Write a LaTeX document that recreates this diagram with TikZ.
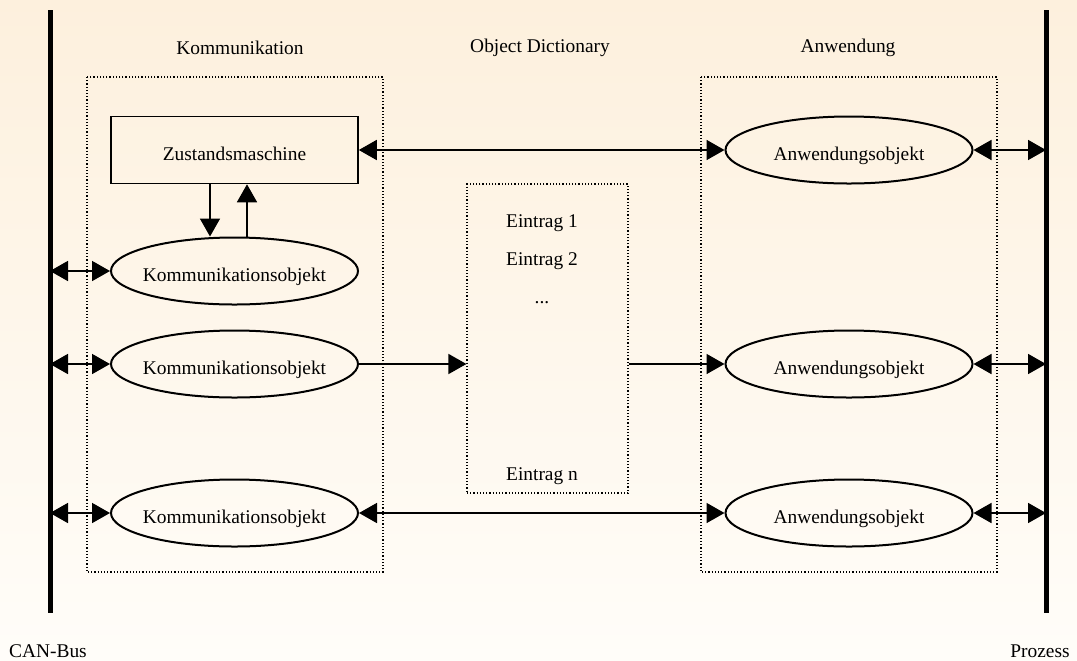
\documentclass[tikz,border=0pt]{standalone}
\usepackage{fontspec}
\setmainfont{Liberation Serif}
\usepackage{xcolor}
\usetikzlibrary{arrows.meta,shapes.geometric}

\definecolor{bgtop}{RGB}{253,240,221}
\definecolor{bgbot}{RGB}{255,253,249}

\tikzset{
  txt/.style={font=\fontsize{9.7}{11}\selectfont},
  objell/.style={draw, ellipse, line width=1pt, minimum width=123.5pt, minimum height=33.5pt, inner xsep=-3pt, inner ysep=0pt, text height=12pt, text depth=2pt, txt},
  zbox/.style={draw, rectangle, line width=0.8pt, minimum width=123.5pt, minimum height=33.5pt, inner sep=0pt, text height=12pt, text depth=2pt, txt},
  dotbox/.style={draw, densely dotted, line width=0.6pt},
  con/.style={line width=0.85pt, -{Triangle[length=9pt,width=10pt]}},
  dcon/.style={line width=0.85pt, {Triangle[length=9pt,width=10pt]}-{Triangle[length=9pt,width=10pt]}},
  bus/.style={line width=2.5pt}
}

\begin{document}
\begin{tikzpicture}[x=0.5pt, y=-0.5pt]
\shade[top color=bgtop, bottom color=bgbot] (0,0) rectangle (1077,660);
\useasboundingbox (0,0) rectangle (1077,660);

% Busse
\coordinate (can) at (50,10);
\coordinate (prz) at (1046,10);
\draw[bus] (can) -- (50,613);
\draw[bus] (prz) -- (1046,613);
\node[txt] (canlbl) at (48,651) {CAN-Bus};
\node[txt] (przlbl) at (1040,651) {Prozess};

% Ueberschriften
\node[txt] (hkomm) at (240,48) {Kommunikation};
\node[txt] (hod) at (540,48) {Object Dictionary};
\node[txt] (hanw) at (848,48) {Anwendung};

% Bereiche
\draw[dotbox] (87,77) rectangle (383,572);
\draw[dotbox] (701,77) rectangle (997,572);
\node[dotbox, minimum width=80.5pt, minimum height=154.5pt] (dict) at (547.5,338.5) {};
\node[txt] (e1) at (542,223) {Eintrag 1};
\node[txt] (e2) at (542,261) {Eintrag 2};
\node[txt] (edots) at (542,303) {...};
\node[txt] (en) at (542,476) {Eintrag n};

% Kommunikation
\node[zbox] (zm) at (234.5,150) {Zustandsmaschine};
\node[objell] (k1) at (234.5,271) {Kommunikationsobjekt};
\node[objell] (k2) at (234.5,364) {Kommunikationsobjekt};
\node[objell] (k3) at (234.5,513) {Kommunikationsobjekt};

% Anwendung
\node[objell] (a1) at (849,150) {Anwendungsobjekt};
\node[objell] (a2) at (849,364) {Anwendungsobjekt};
\node[objell] (a3) at (849,513) {Anwendungsobjekt};

% Verbindungen
\draw[con] ([xshift=-12.25pt]zm.south) -- ([xshift=-12.25pt]zm.south |- k1.north);
\draw[con] ([xshift=6.25pt]zm.south |- k1.north) -- ([xshift=6.25pt]zm.south);
\draw[dcon] (k1.west) -- (k1.west -| can);
\draw[dcon] (k2.west) -- (k2.west -| can);
\draw[dcon] (k3.west) -- (k3.west -| can);
\draw[dcon] (zm.east) -- (a1.west);
\draw[con] (k2.east) -- (k2.east -| dict.west);
\draw[con] (a2.west -| dict.east) -- (a2.west);
\draw[dcon] (k3.east) -- (a3.west);
\draw[dcon] (a1.east) -- (a1.east -| prz);
\draw[dcon] (a2.east) -- (a2.east -| prz);
\draw[dcon] (a3.east) -- (a3.east -| prz);
\end{tikzpicture}
\end{document}
